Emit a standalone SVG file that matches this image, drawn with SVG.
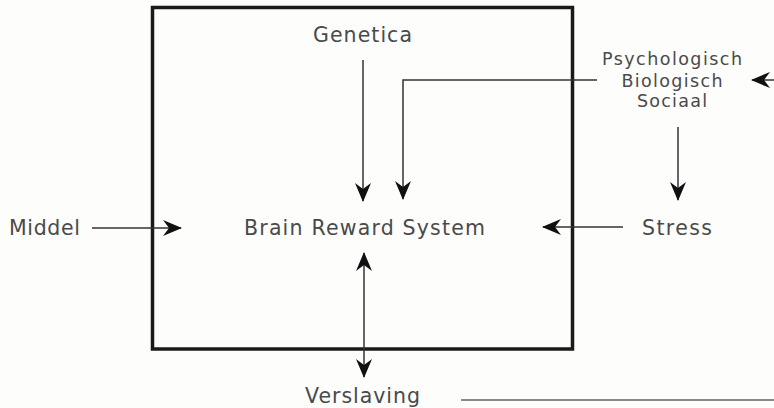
<svg xmlns="http://www.w3.org/2000/svg" width="774" height="408" viewBox="0 0 774 408">
<style>
  .lbl { font-family: "DejaVu Sans", "Liberation Sans", sans-serif; fill: #4a4a4a; font-size: 20.5px; }
  .sm { font-size: 17.5px; }
  .ln { stroke: #333; stroke-width: 1.5; fill: none; }
  .arr { marker-end: url(#ah); }
</style>
<defs>
  <marker id="ah" viewBox="-20 -9 22 18" refX="0" refY="0" markerWidth="22" markerHeight="18" markerUnits="userSpaceOnUse" orient="auto-start-reverse">
    <path d="M1,0 L-18,-8 L-12,0 L-18,8 Z" fill="#111"/>
  </marker>
</defs>
<rect width="774" height="408" fill="#fdfdfc"/>
<g id="box">
  <rect x="152.5" y="7.5" width="420" height="341.5" fill="none" stroke="#1a1a1a" stroke-width="3.5"/>
</g>
<g id="connectors">
  <line class="ln arr" x1="363" y1="60" x2="363" y2="201"/>
  <polyline class="ln arr" points="597,80 403,80 403,199"/>
  <line class="ln arr" x1="774" y1="80" x2="752" y2="80"/>
  <line class="ln arr" x1="678" y1="127" x2="678" y2="200"/>
  <line class="ln arr" x1="92" y1="228" x2="181" y2="228"/>
  <line class="ln arr" x1="623" y1="227" x2="543" y2="227"/>
  <line class="ln" x1="364" y1="253" x2="364" y2="377" marker-start="url(#ah)" marker-end="url(#ah)"/>
  <line x1="461" y1="400" x2="774" y2="400" stroke="#8a8a8a" stroke-width="2"/>
</g>
<g id="genetica"><text class="lbl" x="313" y="42" textLength="99" lengthAdjust="spacing">Genetica</text></g>
<g id="factors">
  <text class="lbl sm" x="672" y="65" text-anchor="middle" textLength="140" lengthAdjust="spacing">Psychologisch</text>
  <text class="lbl sm" x="672" y="87" text-anchor="middle" textLength="101" lengthAdjust="spacing">Biologisch</text>
  <text class="lbl sm" x="672" y="107" text-anchor="middle" textLength="70" lengthAdjust="spacing">Sociaal</text>
</g>
<g id="middel"><text class="lbl" x="9" y="235" textLength="71" lengthAdjust="spacing">Middel</text></g>
<g id="brs"><text class="lbl" x="244" y="235" textLength="241" lengthAdjust="spacing">Brain Reward System</text></g>
<g id="stress"><text class="lbl" x="642" y="235" textLength="70" lengthAdjust="spacing">Stress</text></g>
<g id="verslaving"><text class="lbl" x="305" y="403" textLength="115" lengthAdjust="spacing">Verslaving</text></g>
</svg>
